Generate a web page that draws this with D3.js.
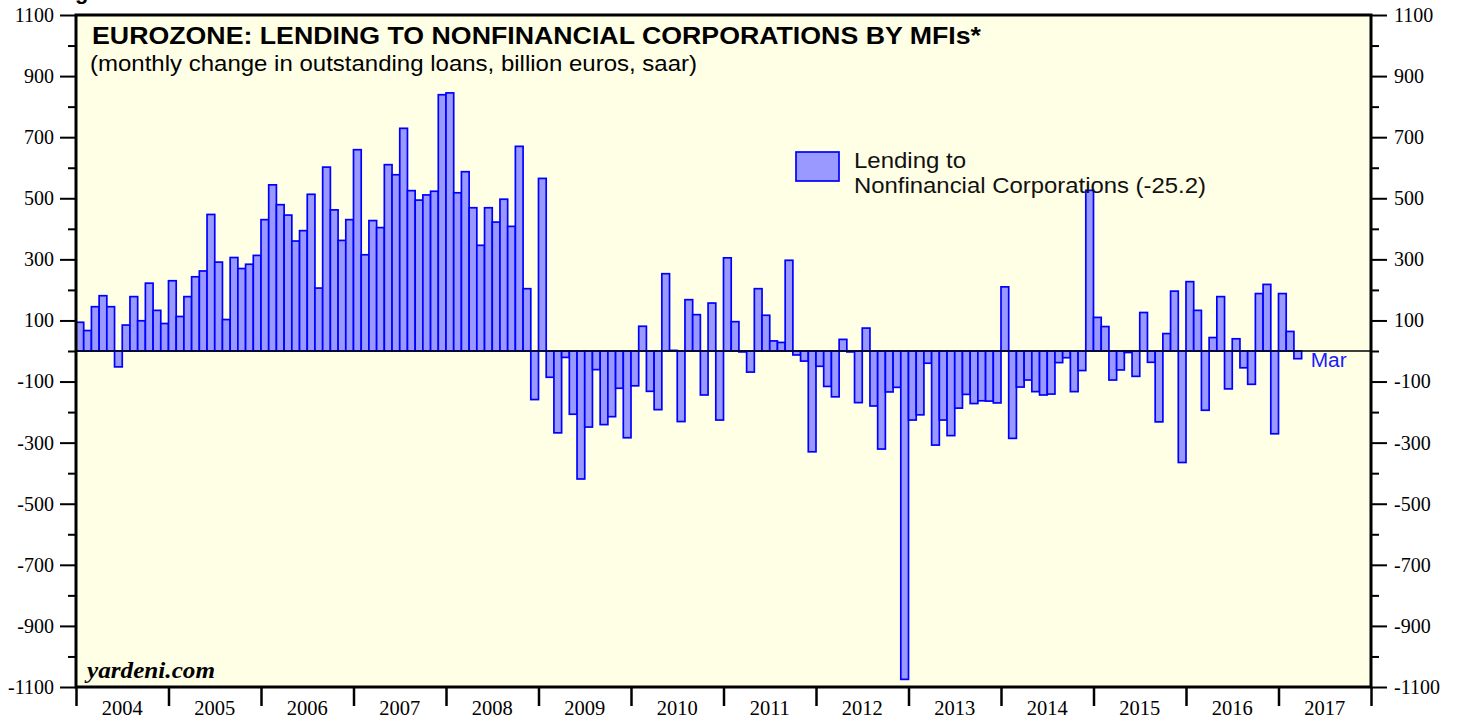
<!DOCTYPE html>
<html>
<head>
<meta charset="utf-8">
<script src="https://cdn.jsdelivr.net/npm/d3@7"></script>
<style>
  body { margin: 0; background: #fff; }
  svg { display: block; }
</style>
</head>
<body>
<div id="chart"></div>
<script>
// monthly change in outstanding loans, billion euros, saar (Jan 2004 .. Mar 2017)
var years = [2004, 2005, 2006, 2007, 2008, 2009, 2010, 2011, 2012, 2013, 2014, 2015, 2016, 2017];
var lending = [
  94, 67, 145, 181, 145, -52, 85, 178, 99, 222, 133, 90,            // 2004
  230, 113, 178, 243, 262, 447, 291, 103, 306, 270, 284, 313,       // 2005
  430, 544, 479, 445, 360, 394, 513, 206, 602, 462, 362, 430,       // 2006
  659, 315, 427, 404, 610, 577, 729, 525, 494, 511, 523, 839,       // 2007
  845, 518, 587, 469, 346, 469, 422, 497, 408, 670, 204, -159,      // 2008
  565, -86, -268, -21, -207, -419, -249, -61, -241, -215, -122, -284, // 2009
  -114, 81, -132, -192, 253, 2, -231, 168, 119, -144, 157, -226,    // 2010
  305, 96, -3, -69, 204, 117, 33, 28, 297, -13, -33, -330,          // 2011
  -50, -116, -150, 38, -3, -169, 75, -180, -321, -134, -119, -1075, // 2012
  -226, -209, -40, -308, -226, -277, -187, -142, -172, -163, -164, -170, // 2013
  210, -286, -118, -95, -133, -144, -141, -38, -22, -133, -64, 526, // 2014
  110, 80, -95, -62, -5, -83, 126, -37, -232, 57, 196, -365,        // 2015
  227, 133, -194, 44, 178, -124, 40, -55, -109, 188, 218, -271,     // 2016
  188, 64, -25.2                                                    // 2017
];
var yTicks = d3.range(-1100, 1101, 100);
var yLabels = d3.range(-1100, 1101, 200);
var legendLines = ["Lending to", "Nonfinancial Corporations (-25.2)"];
var lastLabel = "Mar";

(function () {
  var width = 1457, height = 719;
  var m = { left: 76, right: 1371, top: 15, bottom: 687 };
  var serif = "'Liberation Serif', 'Times New Roman', serif";
  var sans = "'Liberation Sans', Arial, Helvetica, sans-serif";

  var svg = d3.select("#chart").append("svg")
    .attr("width", width)
    .attr("height", height);

  var nMonths = years.length * 12;
  var x = d3.scaleLinear().domain([0, nMonths]).range([m.left, m.right]);
  var y = d3.scaleLinear().domain([-1100, 1100]).range([m.bottom, m.top]);

  // plot background
  svg.append("rect")
    .attr("x", m.left).attr("y", m.top)
    .attr("width", m.right - m.left).attr("height", m.bottom - m.top)
    .attr("fill", "#ffffe6");

  // bars
  svg.append("g").selectAll("rect")
    .data(lending)
    .enter().append("rect")
    .attr("x", function (d, i) { return x(i); })
    .attr("width", function (d, i) { return x(i + 1) - x(i); })
    .attr("y", function (d) { return y(Math.max(0, d)); })
    .attr("height", function (d) { return Math.abs(y(d) - y(0)); })
    .attr("fill", "#9999ff")
    .attr("stroke", "#0000ff")
    .attr("stroke-width", 1.7);

  // zero line
  svg.append("line")
    .attr("x1", m.left).attr("x2", m.right)
    .attr("y1", y(0)).attr("y2", y(0))
    .attr("stroke", "#000")
    .attr("stroke-width", 1.5);

  // y axes, labels on every other tick
  function isLabel(v) { return yLabels.indexOf(v) >= 0; }

  var yLeft = svg.append("g")
    .attr("transform", "translate(" + m.left + ",0)")
    .call(d3.axisLeft(y).tickValues(yTicks).tickSize(16).tickPadding(6)
      .tickFormat(function (d) { return isLabel(d) ? d : ""; }));
  var yRight = svg.append("g")
    .attr("transform", "translate(" + m.right + ",0)")
    .call(d3.axisRight(y).tickValues(yTicks).tickSize(16).tickPadding(7)
      .tickFormat(function (d) { return isLabel(d) ? d : ""; }));

  [yLeft, yRight].forEach(function (g, k) {
    g.select(".domain").remove();
    g.selectAll(".tick line")
      .attr("stroke", "#000")
      .attr("stroke-width", 2)
      .attr("x2", function (d) { return (isLabel(d) ? 16 : 8) * (k === 0 ? -1 : 1); });
    g.selectAll(".tick text")
      .attr("font-family", serif)
      .attr("font-size", 20)
      .attr("fill", "#000");
  });

  // x axis: year ticks with labels centred in between
  var xAxis = svg.append("g")
    .attr("transform", "translate(0," + m.bottom + ")")
    .call(d3.axisBottom(x).tickValues(d3.range(0, nMonths + 1, 12)).tickSize(19).tickFormat(""));
  xAxis.select(".domain").remove();
  xAxis.selectAll(".tick line").attr("stroke", "#000").attr("stroke-width", 2.5);

  svg.append("g").selectAll("text")
    .data(years)
    .enter().append("text")
    .attr("x", function (d, i) { return x(i * 12 + 6); })
    .attr("y", 715)
    .attr("text-anchor", "middle")
    .attr("font-family", serif)
    .attr("font-size", 20.5)
    .text(function (d) { return d; });

  // frame
  svg.append("rect")
    .attr("x", m.left).attr("y", m.top)
    .attr("width", m.right - m.left).attr("height", m.bottom - m.top)
    .attr("fill", "none")
    .attr("stroke", "#000")
    .attr("stroke-width", 3);

  // cut off caption above the frame
  svg.append("text")
    .attr("x", 55.5).attr("y", -1.3)
    .attr("font-family", sans).attr("font-weight", "bold").attr("font-size", 22)
    .text("Figure");

  // titles
  svg.append("text")
    .attr("x", 92).attr("y", 44)
    .attr("font-family", sans).attr("font-weight", "bold").attr("font-size", 24)
    .attr("textLength", 889).attr("lengthAdjust", "spacingAndGlyphs")
    .text("EUROZONE: LENDING TO NONFINANCIAL CORPORATIONS BY MFIs*");
  svg.append("text")
    .attr("x", 90).attr("y", 71)
    .attr("font-family", sans).attr("font-size", 22.5)
    .attr("textLength", 607).attr("lengthAdjust", "spacingAndGlyphs")
    .text("(monthly change in outstanding loans, billion euros, saar)");

  // legend
  svg.append("rect")
    .attr("x", 796).attr("y", 152)
    .attr("width", 43).attr("height", 29)
    .attr("fill", "#9999ff")
    .attr("stroke", "#0000ff")
    .attr("stroke-width", 1.7);
  var legendWidths = [112, 352];
  svg.append("g").selectAll("text")
    .data(legendLines)
    .enter().append("text")
    .attr("x", 854)
    .attr("y", function (d, i) { return 167.5 + i * 25; })
    .attr("font-family", sans)
    .attr("font-size", 21.5)
    .attr("fill", "#111")
    .attr("textLength", function (d, i) { return legendWidths[i]; })
    .attr("lengthAdjust", "spacingAndGlyphs")
    .text(function (d) { return d; });

  // latest month label
  svg.append("text")
    .attr("x", x(lending.length) + 9)
    .attr("y", 367)
    .attr("font-family", sans)
    .attr("font-size", 20)
    .attr("fill", "#1a1aff")
    .attr("textLength", 36).attr("lengthAdjust", "spacingAndGlyphs")
    .text(lastLabel);

  // source
  svg.append("text")
    .attr("x", 87).attr("y", 678)
    .attr("font-family", serif).attr("font-style", "italic").attr("font-weight", "bold")
    .attr("font-size", 22.5)
    .attr("textLength", 128).attr("lengthAdjust", "spacingAndGlyphs")
    .text("yardeni.com");
})();
</script>
</body>
</html>
